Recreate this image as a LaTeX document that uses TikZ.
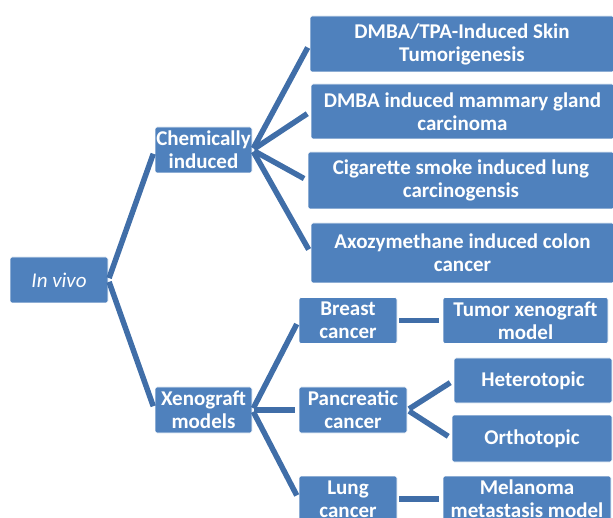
\documentclass[tikz,border=0pt]{standalone}
\usepackage{fontspec}
\setmainfont{Carlito}
\usepackage{tikz}
\usetikzlibrary{positioning}

\definecolor{boxblue}{RGB}{79,129,189}
\definecolor{linkblue}{RGB}{64,110,168}

\begin{document}
\begin{tikzpicture}[x=1pt, y=-1pt]
    \tikzstyle{block} = [rectangle, draw=white, line width=0.8pt, fill=boxblue, text=white, align=center, rounded corners=2pt, inner sep=0pt, font=\fontsize{21}{23}\selectfont\bfseries]
    \tikzstyle{link} = [draw=linkblue, line width=5.5pt, shorten <=2pt, shorten >=4pt]

    \useasboundingbox (0,0) rectangle (613,518);
    \clip (0,0) rectangle (613,518);

    % root
    \node[block, font=\fontsize{21}{23}\selectfont\itshape, minimum width=98pt, minimum height=46pt] (invivo) at (59,280) {In vivo};

    % second level
    \node[block, minimum width=97pt, minimum height=46pt] (chem) at (203.5,150) {Chemically\\induced};
    \node[block, minimum width=97pt, minimum height=46pt] (xeno) at (203.5,410) {Xenograft\\models};

    % chemically induced models
    \node[block, minimum width=304pt, minimum height=56pt] (skin) at (462,44) {DMBA/TPA-Induced Skin\\Tumorigenesis};
    \node[block, minimum width=303pt, minimum height=55pt] (mammary) at (462.5,111.5) {DMBA induced mammary gland\\carcinoma};
    \node[block, minimum width=306pt, minimum height=57pt] (smoke) at (461,180.5) {Cigarette smoke induced lung\\carcinogensis};
    \node[block, minimum width=303pt, minimum height=60pt] (colon) at (462.5,253) {Axozymethane induced colon\\cancer};

    % xenograft models
    \node[block, minimum width=98pt, minimum height=46pt] (breast) at (348,320.5) {Breast\\cancer};
    \node[block, minimum width=108pt, minimum height=46pt] (pancreas) at (353,410) {Pancreatic\\cancer};
    \node[block, minimum width=98pt, minimum height=46pt] (lung) at (348,499) {Lung\\cancer};

    \node[block, minimum width=165pt, minimum height=46pt] (tumor) at (525.5,320.5) {Tumor xenograft\\model};
    \node[block, minimum width=158pt, minimum height=45pt] (hetero) at (533,380.5) {Heterotopic};
    \node[block, minimum width=160pt, minimum height=47pt] (ortho) at (532,438.5) {Orthotopic};
    \node[block, minimum width=168pt, minimum height=46pt] (melanoma) at (527,499) {Melanoma\\metastasis model};

    % connectors
    \draw[link] (invivo.east) -- (chem.west);
    \draw[link] (invivo.east) -- (xeno.west);
    \foreach \child in {skin, mammary, smoke, colon}
        \draw[link] (chem.east) -- (\child.west);
    \foreach \child in {breast, pancreas, lung}
        \draw[link] (xeno.east) -- (\child.west);
    \draw[link] (breast.east) -- (tumor.west);
    \draw[link] (pancreas.east) -- (hetero.west);
    \draw[link] (pancreas.east) -- (ortho.west);
    \draw[link] (lung.east) -- (melanoma.west);
\end{tikzpicture}
\end{document}
